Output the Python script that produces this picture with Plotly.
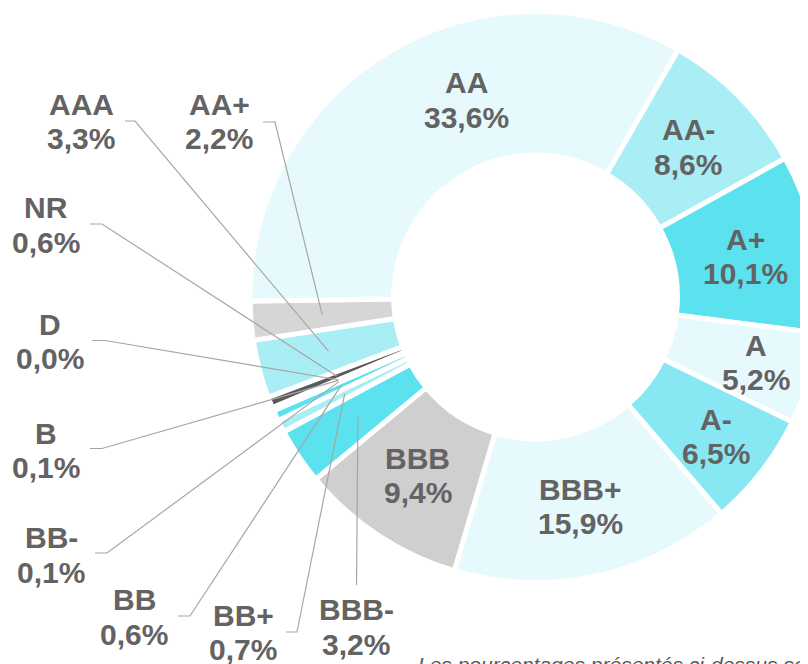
import math
import plotly.graph_objects as go

# ---------------- data ----------------
ratings = ["AAA", "AA+", "AA", "AA-", "A+", "A", "A-", "BBB+", "BBB", "BBB-",
           "BB+", "BB", "BB-", "B", "D", "NR"]
shares = [3.3, 2.2, 33.6, 8.6, 10.1, 5.2, 6.5, 15.9, 9.4, 3.2,
          0.7, 0.6, 0.1, 0.1, 0.0, 0.6]
footnote = "Les pourcentages présentés ci-dessus sont arrondis"

# ---------------- style ----------------
slice_colors = ["#aaeef5", "#d6d6d6", "#e6f9fc", "#aaeef5", "#5ce1ee", "#e6f9fc",
                "#87e8f3", "#e6f9fc", "#d0cfd0", "#5ce1ee", "#aaeef5", "#5ce1ee",
                "#e6f9fc", "#404040", "#202020", "#595959"]
TXT = "#636363"
LINE = "#a6a6a6"
FONT = "Liberation Sans, Arial, sans-serif"
FS = 30

W, H = 830, 664          # figure slightly wider than the window: donut is cut at right
OFF = 8                  # page body margin
CX, CY = 535.5, 297.0    # donut centre (screen px)
R = 285.5                # plotly radius (white stroke eats 2.5px)
HOLE = 0.497
ROT = 249.4
R_MID = 214.0

inside = {"AA": (11.0, -5.0), "AA-": (0, 0), "A+": (0, 0), "A": (0, 16.0),
          "A-": (0, 14.0), "BBB+": (0, 0), "BBB": (0, 0)}
# outside labels: text-block centre (x, y) and elbow (x_start, x_end, y)
outside = {
    "AAA": (81, 121.5, (125, 135, 121)),
    "AA+": (219, 121.5, (263, 275, 122)),
    "NR": (46, 225, (90, 102, 224)),
    "D": (50, 341.5, (92, 105, 340.5)),
    "B": (46, 450.5, (90, 102, 448.5)),
    "BB-": (51, 555, (95, 107, 553)),
    "BB": (134, 617, (178, 190, 616)),
    "BB+": (243, 632.5, (286, 297, 632)),
    "BBB-": (356, 627, None),
}
HALF = 17.2


def px(x):
    return (x - OFF) / W


def py(y):
    return 1 - (y - OFF) / H


total = sum(shares)
starts, acc = [], 0.0
for v in shares:
    starts.append(acc)
    acc += v


def mid_angle(i):
    return ROT + (starts[i] + shares[i] / 2) / total * 360


def point(theta, r):
    t = math.radians(theta)
    return CX + r * math.sin(t), CY - r * math.cos(t)


def fmt(v):
    return f"{v:.1f}".replace(".", ",") + "%"


fig = go.Figure(go.Pie(
    values=shares, labels=ratings, sort=False, direction="clockwise",
    rotation=ROT, hole=HOLE, textinfo="none", hoverinfo="label+percent",
    showlegend=False,
    marker=dict(colors=slice_colors, line=dict(color="white", width=5)),
    domain=dict(x=[px(CX - R), px(CX + R)], y=[py(CY + R), py(CY - R)]),
))

annotations = []
shapes = []


def add_label(x, y, name, val):
    for t, yy in ((name, y - HALF), (val, y + HALF)):
        annotations.append(dict(
            x=px(x), y=py(yy), xref="paper", yref="paper", text=f"<b>{t}</b>",
            showarrow=False, xanchor="center", yanchor="middle",
            font=dict(family=FONT, size=FS, color=TXT)))


for i, name in enumerate(ratings):
    if name in inside:
        da, dr = inside[name]
        x, y = point(mid_angle(i) + da, R_MID + dr)
        add_label(x, y, name, fmt(shares[i]))
    elif name in outside:
        lx, ly, elbow = outside[name]
        add_label(lx, ly, name, fmt(shares[i]))
        ex, ey = point(mid_angle(i), R_MID)
        if elbow is None:
            path = f"M {px(lx + 0.5)} {py(585)} L {px(ex)} {py(ey)}"
        else:
            x0, x1, yy = elbow
            path = f"M {px(x0)} {py(yy)} L {px(x1)} {py(yy)} L {px(ex)} {py(ey)}"
        shapes.append(dict(type="path", xref="paper", yref="paper", path=path,
                           line=dict(color=LINE, width=1.2)))

annotations.append(dict(
    x=px(416), y=py(650.5), xref="paper", yref="paper", text=f"<i>{footnote}</i>",
    showarrow=False, xanchor="left", yanchor="top",
    font=dict(family=FONT, size=21, color="#595959")))

fig.update_layout(
    width=W, height=H, margin=dict(l=0, r=0, t=0, b=0),
    paper_bgcolor="white", plot_bgcolor="white",
    annotations=annotations, shapes=shapes,
)

fig.write_html("out.html")
